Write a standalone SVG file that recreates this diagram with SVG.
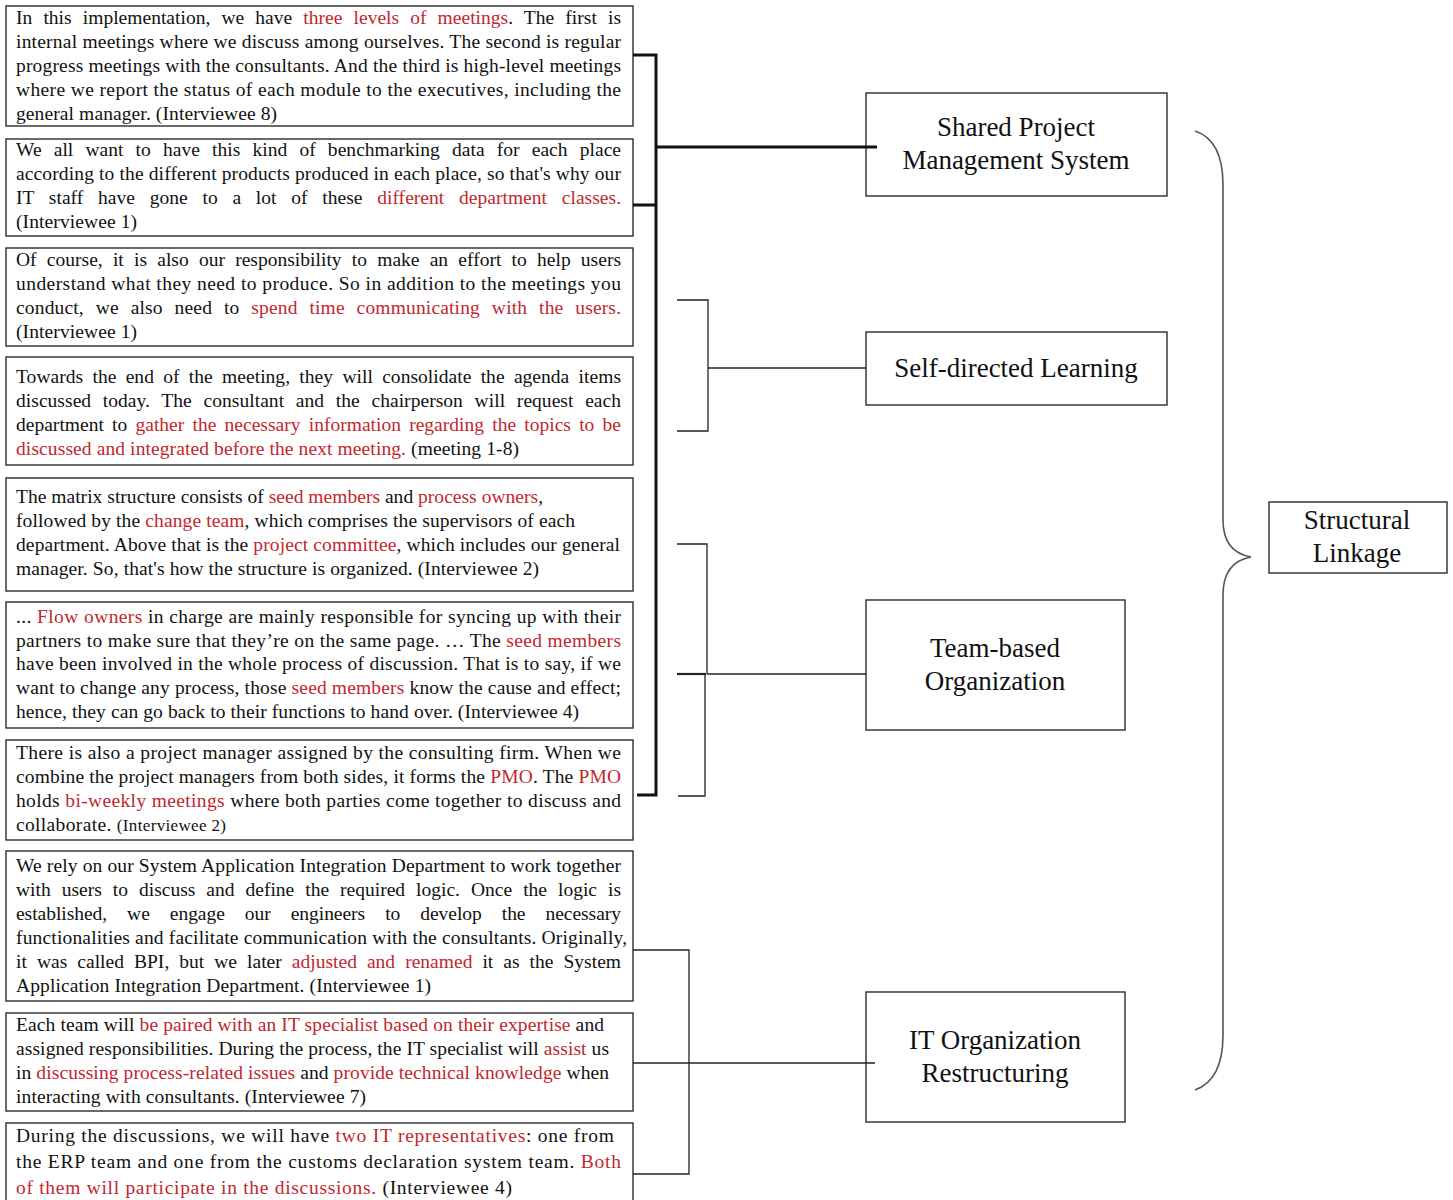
<svg xmlns="http://www.w3.org/2000/svg" width="1453" height="1200" viewBox="0 0 1453 1200">
  <style>
    .bg { fill: #ffffff; }
    .quote { fill: none; stroke: #2b2b2b; stroke-width: 1.4; }
    .node rect { fill: none; stroke: #2b2b2b; stroke-width: 1.4; }
    .q { font-family: "Liberation Serif", "Times New Roman", serif; font-size: 19.5px; fill: #111111; }
    .r { fill: #c1272d; }
    .sm { font-size: 17px; }
    .label { font-family: "Liberation Serif", "Times New Roman", serif; font-size: 27px; fill: #111111; text-anchor: middle; }
    .thick { fill: none; stroke: #111111; stroke-width: 3; }
    .thin { fill: none; stroke: #222222; stroke-width: 1.3; }
    .brace { fill: none; stroke: #555555; stroke-width: 1.6; }
  </style>
  <rect class="bg" x="0" y="0" width="1453" height="1200"/>

  <!-- quotation boxes (justified lines: word-spacing + textLength) -->
  <g id="quote-1">
    <rect class="quote" x="6" y="6" width="627" height="120"/>
    <text class="q" x="16" y="24" style="word-spacing:6.2px" textLength="605" lengthAdjust="spacing">In this implementation, we have <tspan class="r">three levels of meetings</tspan>. The first is</text>
    <text class="q" x="16" y="48" textLength="605" lengthAdjust="spacing">internal meetings where we discuss among ourselves. The second is regular</text>
    <text class="q" x="16" y="72" textLength="605" lengthAdjust="spacing">progress meetings with the consultants. And the third is high-level meetings</text>
    <text class="q" x="16" y="96" textLength="605" lengthAdjust="spacing">where we report the status of each module to the executives, including the</text>
    <text class="q" x="16" y="120" textLength="261" lengthAdjust="spacing">general manager. (Interviewee 8)</text>
  </g>
  <g id="quote-2">
    <rect class="quote" x="6" y="139" width="627" height="97"/>
    <text class="q" x="16" y="156" style="word-spacing:7.2px" textLength="605" lengthAdjust="spacing">We all want to have this kind of benchmarking data for each place</text>
    <text class="q" x="16" y="180" textLength="605" lengthAdjust="spacing">according to the different products produced in each place, so that's why our</text>
    <text class="q" x="16" y="204" style="word-spacing:9.8px" textLength="605" lengthAdjust="spacing">IT staff have gone to a lot of these <tspan class="r">different department classes.</tspan></text>
    <text class="q" x="16" y="228" textLength="121" lengthAdjust="spacing">(Interviewee 1)</text>
  </g>
  <g id="quote-3">
    <rect class="quote" x="6" y="248" width="627" height="98"/>
    <text class="q" x="16" y="266" style="word-spacing:5.3px" textLength="605" lengthAdjust="spacing">Of course, it is also our responsibility to make an effort to help users</text>
    <text class="q" x="16" y="290" textLength="605" lengthAdjust="spacing">understand what they need to produce. So in addition to the meetings you</text>
    <text class="q" x="16" y="314" style="word-spacing:6.8px" textLength="605" lengthAdjust="spacing">conduct, we also need to <tspan class="r">spend time communicating with the users.</tspan></text>
    <text class="q" x="16" y="338" textLength="121" lengthAdjust="spacing">(Interviewee 1)</text>
  </g>
  <g id="quote-4">
    <rect class="quote" x="6" y="357" width="627" height="108"/>
    <text class="q" x="16" y="383" style="word-spacing:4.4px" textLength="605" lengthAdjust="spacing">Towards the end of the meeting, they will consolidate the agenda items</text>
    <text class="q" x="16" y="407" style="word-spacing:6.8px" textLength="605" lengthAdjust="spacing">discussed today. The consultant and the chairperson will request each</text>
    <text class="q" x="16" y="431" style="word-spacing:3.3px" textLength="605" lengthAdjust="spacing">department to <tspan class="r">gather the necessary information regarding the topics to be</tspan></text>
    <text class="q" x="16" y="455" textLength="503" lengthAdjust="spacing"><tspan class="r">discussed and integrated before the next meeting.</tspan> (meeting 1-8)</text>
  </g>
  <g id="quote-5">
    <rect class="quote" x="6" y="478" width="627" height="113"/>
    <text class="q" x="16" y="503" textLength="527" lengthAdjust="spacing">The matrix structure consists of <tspan class="r">seed members</tspan> and <tspan class="r">process owners</tspan>,</text>
    <text class="q" x="16" y="527" textLength="559" lengthAdjust="spacing">followed by the <tspan class="r">change team</tspan>, which comprises the supervisors of each</text>
    <text class="q" x="16" y="551" textLength="604" lengthAdjust="spacing">department. Above that is the <tspan class="r">project committee</tspan>, which includes our general</text>
    <text class="q" x="16" y="575" textLength="523" lengthAdjust="spacing">manager. So, that's how the structure is organized. (Interviewee 2)</text>
  </g>
  <g id="quote-6">
    <rect class="quote" x="6" y="602" width="627" height="126"/>
    <text class="q" x="16" y="623" textLength="605" lengthAdjust="spacing">... <tspan class="r">Flow owners</tspan> in charge are mainly responsible for syncing up with their</text>
    <text class="q" x="16" y="647" textLength="605" lengthAdjust="spacing">partners to make sure that they’re on the same page. … The <tspan class="r">seed members</tspan></text>
    <text class="q" x="16" y="670" textLength="605" lengthAdjust="spacing">have been involved in the whole process of discussion. That is to say, if we</text>
    <text class="q" x="16" y="694" textLength="605" lengthAdjust="spacing">want to change any process, those <tspan class="r">seed members</tspan> know the cause and effect;</text>
    <text class="q" x="16" y="718" textLength="563" lengthAdjust="spacing">hence, they can go back to their functions to hand over. (Interviewee 4)</text>
  </g>
  <g id="quote-7">
    <rect class="quote" x="6" y="740" width="627" height="100"/>
    <text class="q" x="16" y="759" textLength="605" lengthAdjust="spacing">There is also a project manager assigned by the consulting firm. When we</text>
    <text class="q" x="16" y="783" textLength="605" lengthAdjust="spacing">combine the project managers from both sides, it forms the <tspan class="r">PMO</tspan>. The <tspan class="r">PMO</tspan></text>
    <text class="q" x="16" y="807" textLength="605" lengthAdjust="spacing">holds <tspan class="r">bi-weekly meetings</tspan> where both parties come together to discuss and</text>
    <text class="q" x="16" y="831" textLength="210" lengthAdjust="spacing">collaborate. <tspan class="sm">(Interviewee 2)</tspan></text>
  </g>
  <g id="quote-8">
    <rect class="quote" x="6" y="851" width="627" height="150"/>
    <text class="q" x="16" y="872" textLength="605" lengthAdjust="spacing">We rely on our System Application Integration Department to work together</text>
    <text class="q" x="16" y="896" style="word-spacing:6.1px" textLength="605" lengthAdjust="spacing">with users to discuss and define the required logic. Once the logic is</text>
    <text class="q" x="16" y="920" style="word-spacing:15.2px" textLength="605" lengthAdjust="spacing">established, we engage our engineers to develop the necessary</text>
    <text class="q" x="16" y="944" textLength="611" lengthAdjust="spacing">functionalities and facilitate communication with the consultants. Originally,</text>
    <text class="q" x="16" y="968" style="word-spacing:5.1px" textLength="605" lengthAdjust="spacing">it was called BPI, but we later <tspan class="r">adjusted and renamed</tspan> it as the System</text>
    <text class="q" x="16" y="992" textLength="415" lengthAdjust="spacing">Application Integration Department. (Interviewee 1)</text>
  </g>
  <g id="quote-9">
    <rect class="quote" x="6" y="1013" width="627" height="98"/>
    <text class="q" x="16" y="1031" textLength="588" lengthAdjust="spacing">Each team will <tspan class="r">be paired with an IT specialist based on their expertise</tspan> and</text>
    <text class="q" x="16" y="1055" textLength="593" lengthAdjust="spacing">assigned responsibilities. During the process, the IT specialist will <tspan class="r">assist</tspan> us</text>
    <text class="q" x="16" y="1079" textLength="593" lengthAdjust="spacing">in <tspan class="r">discussing process-related issues</tspan> and <tspan class="r">provide technical knowledge</tspan> when</text>
    <text class="q" x="16" y="1103" textLength="350" lengthAdjust="spacing">interacting with consultants. (Interviewee 7)</text>
  </g>
  <g id="quote-10">
    <rect class="quote" x="6" y="1123" width="627" height="90"/>
    <text class="q" x="16" y="1142" textLength="598" lengthAdjust="spacing">During the discussions, we will have <tspan class="r">two IT representatives</tspan>: one from</text>
    <text class="q" x="16" y="1168" textLength="605" lengthAdjust="spacing">the ERP team and one from the customs declaration system team. <tspan class="r">Both</tspan></text>
    <text class="q" x="16" y="1194" textLength="496" lengthAdjust="spacing"><tspan class="r">of them will participate in the discussions.</tspan> (Interviewee 4)</text>
  </g>

  <!-- category nodes -->
  <g id="node-shared-pms" class="node">
    <rect x="866" y="93" width="301" height="103"/>
    <text class="label" x="1016" y="136">Shared Project</text>
    <text class="label" x="1016" y="169">Management System</text>
  </g>
  <g id="node-self-directed" class="node">
    <rect x="866" y="332" width="301" height="73"/>
    <text class="label" x="1016" y="377">Self-directed Learning</text>
  </g>
  <g id="node-team-based" class="node">
    <rect x="866" y="600" width="259" height="130"/>
    <text class="label" x="995" y="657">Team-based</text>
    <text class="label" x="995" y="690">Organization</text>
  </g>
  <g id="node-it-restructuring" class="node">
    <rect x="866" y="992" width="259" height="130"/>
    <text class="label" x="995" y="1049">IT Organization</text>
    <text class="label" x="995" y="1082">Restructuring</text>
  </g>
  <g id="node-structural-linkage" class="node">
    <rect x="1269" y="502" width="178" height="71"/>
    <text class="label" x="1357" y="529">Structural</text>
    <text class="label" x="1357" y="562">Linkage</text>
  </g>

  <!-- brackets and connectors -->
  <g id="connectors">
    <path class="thick" d="M633,55 H656 V795 H637"/>
    <path class="thick" d="M633,205 H656"/>
    <path class="thick" d="M656,147 H877"/>
    <path class="thin" d="M677,300 H708 V431 H677"/>
    <path class="thin" d="M708,368 H866"/>
    <path class="thin" d="M677,544 H707 V674"/>
    <path class="thin" d="M677,674 H706" style="stroke-width:2.2"/>
    <path class="thin" d="M705,674 V796 H678"/>
    <path class="thin" d="M707,674 H866"/>
    <path class="thin" d="M633,950 H689 V1174 H633"/>
    <path class="thin" d="M633,1063 H875"/>
    <path class="brace" d="M1195,131 Q1223,140 1223,185 V520 Q1223,552 1251,557 Q1223,562 1223,595 V1035 Q1223,1080 1195,1090"/>
  </g>
</svg>
